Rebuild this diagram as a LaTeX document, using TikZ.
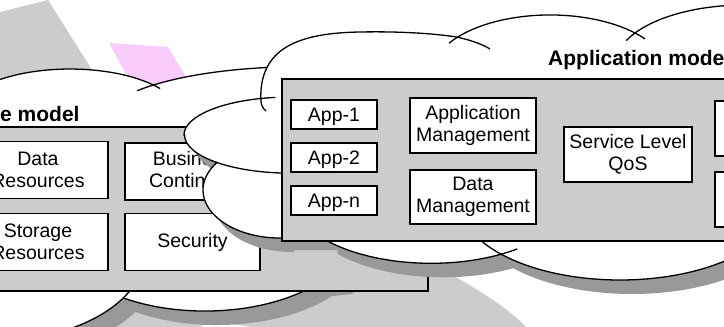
\documentclass[tikz,border=0pt]{standalone}
\usepackage{fontspec}
\setmainfont{Liberation Sans}
\definecolor{bggrey}{HTML}{CCCCCC}
\definecolor{shadowgrey}{HTML}{999999}
\definecolor{pinkpatch}{HTML}{F9CCFC}
\newcommand{\leftcloud}{(-33.4,99.3) arc[start angle=200, end angle=319.3, x radius=110, y radius=46]
  arc[start angle=222.2, end angle=290, x radius=200, y radius=56]
  -- (400,150) -- (400,200) -- (340,280) -- (319.9,282.1)
  arc[start angle=40, end angle=123, x radius=150, y radius=81]
  arc[start angle=31.8, end angle=100, x radius=150, y radius=90]
  -- (-60,338) -- (-60,75) -- cycle}
\newcommand{\rightcloud}{(184,135) arc[start angle=180, end angle=254, x radius=106, y radius=38]
  .. controls (260,50) and (295,33) .. (360,32)
  .. controls (410,31) and (445,35) .. (457.5,37.2)
  arc[start angle=219, end angle=315.6, x radius=119, y radius=60]
  arc[start angle=212.2, end angle=300, x radius=130, y radius=60]
  -- (830,13) -- (830,241) -- (758.6,241)
  arc[start angle=30, end angle=138, x radius=160, y radius=78]
  arc[start angle=60, end angle=138.6, x radius=140, y radius=68]
  -- (325,236) -- (282,236) -- (282,238)
  arc[start angle=88.5, end angle=215, x radius=77, y radius=48]
  arc[start angle=134, end angle=180, x radius=106, y radius=38]
  -- cycle}
\begin{document}
\begin{tikzpicture}[x=1pt, y=-1pt,
    box/.style={draw=black, line width=1.3pt, fill=white, inner sep=0pt, align=center, font=\fontsize{19.5}{22.5}\selectfont},
    appbox/.style={box, minimum width=86pt, minimum height=29pt, text depth=0pt},
    panel/.style={draw=black, line width=1.3pt, fill=bggrey, inner sep=0pt},
    paneltitle/.style={anchor=base west, inner sep=0pt, font=\fontsize{21}{25}\selectfont\bfseries},
    cloudline/.style={draw=black, line width=1.3pt},
    cloudshadow/.style={fill=shadowgrey, shift={(12,14)}}]
            \useasboundingbox (0,0) rectangle (724,327);
            \clip (0,0) rectangle (724,327);

            \fill[bggrey] (0,12) -- (48,0) -- (116,108) -- (0,108) -- cycle;
            \fill[bggrey] (90,327) -- (90,280) -- (440,268) .. controls (470,285) and (505,305) .. (526,327) -- cycle;
            \fill[white] (200,327) -- (212,321) -- (250,327) -- cycle;
            \fill[pinkpatch] (109,43) -- (168,47) -- (200,100) -- (140,100) -- cycle;

            \fill[cloudshadow] \leftcloud;
            \draw[cloudline, fill=white] \leftcloud;
            \draw[cloudline] (153.4,85) arc[start angle=222.2, end angle=214.7, x radius=200, y radius=56];
            \draw[cloudline] (153.4,85) arc[start angle=319.3, end angle=325, x radius=110, y radius=46];
            \draw[cloudline] (123.3,297.9) arc[start angle=31.8, end angle=18, x radius=150, y radius=90];

            \node[panel, minimum width=468pt, minimum height=164pt] (infra) at (194,209) {};
            \node[paneltitle] (infratitle) at (0,121.5) {e model};
            \node[box, minimum width=140pt, minimum height=57pt] (datares) at (38,170) {Data\\Resources};
            \node[box, minimum width=140pt, minimum height=57pt] (storageres) at (38,242) {Storage\\Resources};
            \node[box, minimum width=135pt, minimum height=57pt] (buscont) at (192.5,171.5) {Business\\Continuity};
            \node[box, minimum width=135pt, minimum height=57pt] (security) at (192.5,242) {Security};

            \fill[cloudshadow] \rightcloud;
            \draw[cloudline, fill=white] \rightcloud;
            \draw[cloudline] (260.8,98.5) .. controls (261,104) and (262,108) .. (266,111);
            \draw[cloudline] (260.8,98.5) arc[start angle=254, end angle=262, x radius=106, y radius=38];
            \draw[cloudline] (457.5,37.2) .. controls (470,40) and (482,44) .. (490,49);
            \draw[cloudline] (457.5,37.2) arc[start angle=219, end angle=212, x radius=119, y radius=60];
            \draw[cloudline] (635,33) arc[start angle=315.6, end angle=323, x radius=119, y radius=60];
            \draw[cloudline] (635,33) arc[start angle=212.2, end angle=204, x radius=130, y radius=60];
            \draw[cloudline] (216.9,162.5) arc[start angle=134, end angle=85, x radius=106, y radius=38];
            \draw[cloudline] (501.1,254.2) arc[start angle=60, end angle=52, x radius=140, y radius=68];
            \draw[cloudline] (501.1,254.2) arc[start angle=138, end angle=150, x radius=160, y radius=78];

            \node[panel, minimum width=618pt, minimum height=162pt] (appmodel) at (591,160) {};
            \node[paneltitle] (apptitle) at (548,65.5) {Application mode};
            \node[appbox] (app1) at (334,114.5) {App-1};
            \node[appbox] (app2) at (334,157.5) {App-2};
            \node[appbox] (appn) at (334,200.5) {App-n};
            \node[box, minimum width=126pt, minimum height=55pt] (appmgmt) at (473,125.5) {Application\\Management};
            \node[box, minimum width=126pt, minimum height=54pt] (datamgmt) at (473,197) {Data\\Management};
            \node[box, minimum width=128pt, minimum height=55pt] (slqos) at (628,154.5) {Service Level\\QoS};
            \node[box, minimum width=126pt, minimum height=55pt] (rightbox1) at (778,128.5) {};
            \node[box, minimum width=126pt, minimum height=55pt] (rightbox2) at (778,199.5) {};
        \end{tikzpicture}
\end{document}
